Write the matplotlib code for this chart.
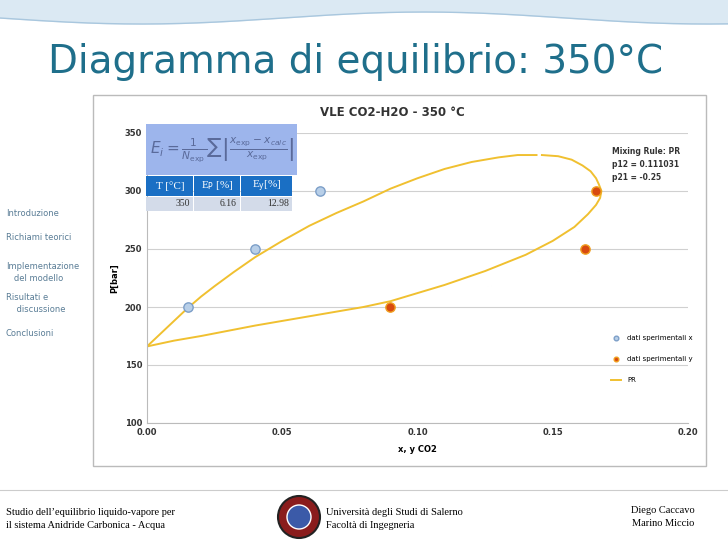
import matplotlib
matplotlib.use("Agg")
import matplotlib.pyplot as plt
from matplotlib.patches import Rectangle, Circle
import numpy as np

W, H = 728, 546
# data
x_exp = [0.015, 0.040, 0.064]
p_x_exp = [200, 250, 300]
y_exp = [0.090, 0.162, 0.166]
p_y_exp = [200, 250, 300]
pr_liq_x = [0.0, 0.005, 0.010, 0.015, 0.020, 0.025, 0.032, 0.040, 0.050, 0.060, 0.070, 0.080, 0.090, 0.100, 0.110, 0.120, 0.130, 0.137, 0.144]
pr_liq_p = [166, 177, 188, 199, 209, 218, 230, 243, 257, 270, 281, 291, 302, 311, 319, 325, 329, 331, 331]
pr_vap_x = [0.146, 0.152, 0.157, 0.161, 0.164, 0.166, 0.167, 0.168, 0.1675, 0.166, 0.163, 0.158, 0.150, 0.140, 0.125, 0.110, 0.100, 0.090, 0.080, 0.060, 0.050, 0.040, 0.020, 0.010, 0.0]
pr_vap_p = [331, 330, 327, 322, 317, 311, 306, 300, 294, 288, 280, 269, 257, 245, 231, 219, 212, 205, 200, 192, 188, 184, 175, 171, 166]
xticks = [0.00, 0.05, 0.10, 0.15, 0.20]
yticks = [100, 150, 200, 250, 300, 350]

fig = plt.figure(figsize=(W/100, H/100), dpi=100)
bg = fig.add_axes([0, 0, 1, 1]); bg.set_xlim(0, W); bg.set_ylim(H, 0); bg.axis('off')
t = np.linspace(0, W, 200)
bg.fill_between(t, 0, 18 + 6*np.sin(t/90), color='#dbe9f3')
bg.plot(t, 18 + 6*np.sin(t/90), color='#a9c7de', lw=1)
bg.text(48, 62, "Diagramma di equilibrio: 350°C", fontsize=28, color='#1f6f8b', va='center', ha='left')
nav = [(213, "Introduzione"), (237, "Richiami teorici"), (262, "Implementazione\n   del modello"),
       (293, "Risultati e\n    discussione"), (334, "Conclusioni")]
for y, s in nav:
    bg.text(6, y, s, fontsize=6, color='#5a7d96', va='top' if '\n' in s else 'center', linespacing=1.4)
bg.add_patch(Rectangle((93, 95), 613, 371, facecolor='white', edgecolor='#bbbbbb', lw=1))
bg.text(392, 112, "VLE CO2-H2O - 350 °C", fontsize=8.5, fontweight='bold', ha='center', va='center', color='#333333')
bg.plot([0, W], [490, 490], color='#cccccc', lw=0.8)
bg.text(6, 519, "Studio dell’equilibrio liquido-vapore per\nil sistema Anidride Carbonica - Acqua", fontsize=7.5,
        family='Liberation Serif', va='center', linespacing=1.5)
bg.text(326, 519, "Università degli Studi di Salerno\nFacoltà di Ingegneria", fontsize=7.5,
        family='Liberation Serif', va='center', linespacing=1.5)
bg.text(663, 517, "Diego Caccavo\nMarino Miccio", fontsize=7.5, family='Liberation Serif', va='center',
        ha='center', linespacing=1.5)
bg.add_patch(Circle((299, 517), 21, facecolor='#8a1c1c', edgecolor='#222222', lw=1.5))
bg.add_patch(Circle((299, 517), 12, facecolor='#3b5aa8', edgecolor='white', lw=1))

ax = fig.add_axes([147/W, 1-423/H, (688-147)/W, (423-133)/H])
ax.plot(pr_liq_x, pr_liq_p, color='#f0c030', lw=1.4, label='PR')
ax.plot(pr_vap_x, pr_vap_p, color='#f0c030', lw=1.4)
ax.scatter(x_exp, p_x_exp, s=45, facecolor='#b8cfe8', edgecolor='#7d9fc8', lw=1, zorder=3, label='dati sperimentali x')
ax.scatter(y_exp, p_y_exp, s=45, facecolor='#d84a10', edgecolor='#f0a020', lw=1, zorder=3, label='dati sperimentali y')
ax.set_xlim(0, 0.2); ax.set_ylim(100, 350)
ax.set_xticks(xticks); ax.set_yticks(yticks)
ax.set_xticklabels([f"{v:.2f}" for v in xticks])
ax.tick_params(labelsize=6, length=0, colors='#333333')
for l in ax.get_xticklabels() + ax.get_yticklabels():
    l.set_fontweight('bold')
ax.grid(axis='y', color='#d0d0d0', lw=0.8)
ax.set_axisbelow(True)
for s in ['top', 'right']:
    ax.spines[s].set_visible(False)
for s in ['left', 'bottom']:
    ax.spines[s].set_color('#bbbbbb')
ax.set_xlabel("x, y CO2", fontsize=6, fontweight='bold', labelpad=6)
ax.set_ylabel("P[bar]", fontsize=6, fontweight='bold')
h, lab = ax.get_legend_handles_labels()
ax.legend([h[1], h[2], h[0]], [lab[1], lab[2], lab[0]], loc='center right', bbox_to_anchor=(1.02, 0.22),
          frameon=False, fontsize=5, labelspacing=2.2, handlelength=1.5, markerscale=0.5)
ax.text(0.172, 338, "Mixing Rule: PR\np12 = 0.111031\np21 = -0.25", fontsize=5.5, fontweight='bold',
        va='top', linespacing=1.6, color='#333333')

ov = fig.add_axes([0, 0, 1, 1], zorder=10); ov.set_xlim(0, W); ov.set_ylim(H, 0); ov.axis('off')
ov.patch.set_alpha(0)
ov.add_patch(Rectangle((146, 124), 151, 51, facecolor='#9db5ec', edgecolor='none'))
ov.text(150, 150, r"$E_i=\frac{1}{N_{\exp}}\sum\left|\frac{x_{\exp}-x_{calc}}{x_{\exp}}\right|$",
        fontsize=11, color='#5a6a9a', va='center')
cols = [(146, 194), (194, 241), (241, 293)]
heads = ["T [°C]", r"E$_\mathrm{P}$ [%]", r"E$_\mathrm{y}$[%]"]
vals = ["350", "6.16", "12.98"]
for (a, b), hd, v in zip(cols, heads, vals):
    ov.add_patch(Rectangle((a, 176), b-a-1, 20, facecolor='#1a6fc4', edgecolor='none'))
    ov.text((a+b)/2, 186, hd, color='white', fontsize=8, ha='center', va='center', family='Liberation Serif')
    ov.add_patch(Rectangle((a, 197), b-a-1, 14, facecolor='#d3dbe9', edgecolor='none'))
    ov.text(b-4, 204, v, color='#333333', fontsize=7, ha='right', va='center', family='Liberation Serif')

fig.savefig("out.png", dpi=100)
